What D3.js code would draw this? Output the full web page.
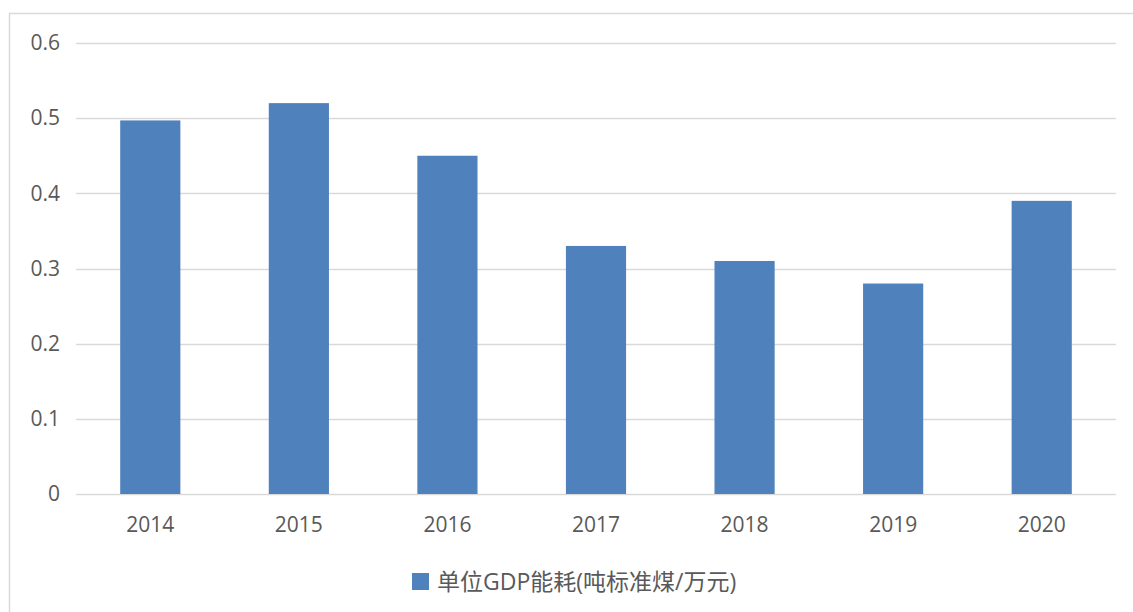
<!DOCTYPE html>
<html>
<head>
<meta charset="utf-8">
<script src="https://cdn.jsdelivr.net/npm/d3@7"></script>
<style>
  html, body { margin: 0; padding: 0; background: #fff; }
  svg { display: block; }
</style>
</head>
<body>
<svg id="chart" width="1133" height="612"></svg>
<script>
// Energy consumption per unit of GDP, by year
const years = ["2014", "2015", "2016", "2017", "2018", "2019", "2020"];
const energyPerGdp = [0.497, 0.52, 0.45, 0.33, 0.31, 0.28, 0.39];
const yTicks = [0, 0.1, 0.2, 0.3, 0.4, 0.5, 0.6];
const seriesName = "单位GDP能耗(吨标准煤/万元)";

const svg = d3.select("#chart");
const W = 1133, H = 612;
const margin = { left: 76, right: 17, top: 43, bottom: 118 };
const fontFamily = "'Open Sans', 'Noto Sans CJK SC', sans-serif";
const textColor = "#595959";
const barColor = "#4F81BD";

// outer chart frame
svg.append("rect")
  .attr("x", 9.5).attr("y", 13.5)
  .attr("width", W + 20).attr("height", H + 20)
  .attr("fill", "none").attr("stroke", "#d9d9d9").attr("stroke-width", 1.5);

const x = d3.scaleBand()
  .domain(years)
  .range([margin.left, W - margin.right])
  .paddingInner(0.595)
  .paddingOuter(0.2975);

const y = d3.scaleLinear()
  .domain([0, 0.6])
  .range([H - margin.bottom, margin.top]);

// horizontal gridlines
svg.append("g")
  .selectAll("line")
  .data(yTicks)
  .join("line")
  .attr("x1", margin.left).attr("x2", W - margin.right)
  .attr("y1", d => Math.round(y(d)) + 0.5).attr("y2", d => Math.round(y(d)) + 0.5)
  .attr("stroke", "#d9d9d9").attr("stroke-width", 1.5);

// bars
svg.append("g")
  .selectAll("rect")
  .data(years.map((yr, i) => ({ yr, v: energyPerGdp[i] })))
  .join("rect")
  .attr("x", d => x(d.yr))
  .attr("y", d => y(d.v))
  .attr("width", x.bandwidth())
  .attr("height", d => y(0) - y(d.v))
  .attr("fill", barColor);

// y-axis labels
const yAxis = d3.axisLeft(y).tickValues(yTicks).tickSize(0).tickPadding(16)
  .tickFormat(d => d === 0 ? "0" : d3.format(".1f")(d));
const gy = svg.append("g").attr("transform", `translate(${margin.left},0)`).call(yAxis);
gy.select(".domain").remove();
gy.selectAll("text")
  .attr("fill", textColor)
  .style("font-family", fontFamily)
  .style("font-size", "21px");

// x-axis labels
const xAxis = d3.axisBottom(x).tickSize(0).tickPadding(23);
const gx = svg.append("g").attr("transform", `translate(0,${y(0)})`).call(xAxis);
gx.select(".domain").remove();
gx.selectAll("text")
  .attr("fill", textColor)
  .style("font-family", fontFamily)
  .style("font-size", "21px");

// legend
const legend = svg.append("g").attr("transform", "translate(412,573)");
legend.append("rect").attr("width", 17).attr("height", 17).attr("fill", barColor);
legend.append("text")
  .attr("x", 25).attr("y", 8.5)
  .attr("dy", "0.36em")
  .attr("fill", textColor)
  .style("font-family", fontFamily)
  .style("font-size", "23px")
  .text(seriesName);
</script>
</body>
</html>
